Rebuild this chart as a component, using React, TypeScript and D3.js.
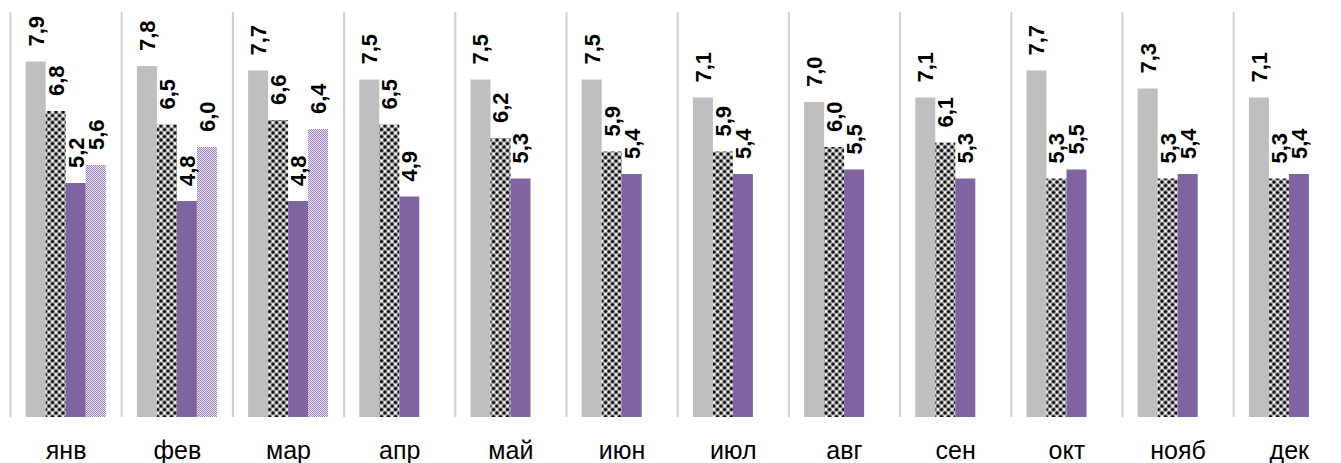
import React from "react";
import * as d3 from "d3";

const months = ["янв", "фев", "мар", "апр", "май", "июн", "июл", "авг", "сен", "окт", "нояб", "дек"];
const seriesIds = ["s1", "s2", "s3", "s4"];
const s1 = [7.9, 7.8, 7.7, 7.5, 7.5, 7.5, 7.1, 7.0, 7.1, 7.7, 7.3, 7.1];
const s2 = [6.8, 6.5, 6.6, 6.5, 6.2, 5.9, 5.9, 6.0, 6.1, 5.3, 5.3, 5.3];
const s3 = [5.2, 4.8, 4.8, 4.9, 5.3, 5.4, 5.4, 5.5, 5.3, 5.5, 5.4, 5.4];
const s4: (number | null)[] = [5.6, 6.0, 6.4, null, null, null, null, null, null, null, null, null];
const yMax = 9;

const W = 1341;
const H = 463;
const plotLeft = 10.5;
const groupW = 111.2;
const plotTop = 12;
const plotBottom = 417;

const fills: Record<string, string> = {
  s1: "#bfbfbf",
  s2: "url(#sphere)",
  s3: "#8064a2",
  s4: "url(#lilac)",
};

const fmt = (v: number) => v.toFixed(1).replace(".", ",");

export default function App() {
  const x0 = d3.scaleBand<string>().domain(months).range([plotLeft, plotLeft + groupW * months.length]).padding(0);
  const x1 = d3.scaleBand<string>().domain(seriesIds).range([15.2, 95.2]).padding(0);
  const y = d3.scaleLinear().domain([0, yMax]).range([plotBottom, plotTop]);
  const all = [s1, s2, s3, s4];

  const bars: { key: string; x: number; w: number; v: number; fill: string }[] = [];
  months.forEach((m, i) => {
    all.forEach((arr, si) => {
      const v = arr[i];
      if (v == null) return;
      const id = seriesIds[si];
      bars.push({ key: m + id, x: (x0(m) as number) + (x1(id) as number), w: x1.bandwidth(), v, fill: fills[id] });
    });
  });

  return (
    <svg width={W} height={H} style={{ position: "absolute", left: 0, top: 0, background: "#fff" }}>
      <defs>
        <pattern id="sphere" width={7} height={7} patternUnits="userSpaceOnUse">
          <rect width={7} height={7} fill="#ffffff" />
          {[
            [0, 0],
            [7, 0],
            [0, 7],
            [7, 7],
            [3.5, 3.5],
          ].map(([cx, cy], i) => (
            <g key={i}>
              <circle cx={cx} cy={cy} r={2.5} fill="#999999" />
              <circle cx={cx} cy={cy} r={1.6} fill="#111111" />
            </g>
          ))}
        </pattern>
        <pattern id="lilac" width={2} height={2} patternUnits="userSpaceOnUse">
          <rect width={2} height={2} fill="#ebe5f2" />
          <rect width={1} height={1} fill="#9a83bb" />
          <rect x={1} y={1} width={1} height={1} fill="#9a83bb" />
        </pattern>
      </defs>
      {months.map((m) => (
        <line
          key={"sep" + m}
          x1={x0(m) as number}
          x2={x0(m) as number}
          y1={plotTop}
          y2={plotBottom}
          stroke="#d0d0d0"
          strokeWidth={2}
        />
      ))}
      {bars.map((b) => (
        <rect key={b.key} x={b.x} y={y(b.v)} width={b.w} height={plotBottom - y(b.v)} fill={b.fill} />
      ))}
      {bars.map((b) => {
        const cx = b.x + b.w / 2;
        const yy = y(b.v) - 15;
        return (
          <text
            key={"t" + b.key}
            transform={`translate(${cx},${yy}) rotate(-90)`}
            dy="0.36em"
            fontFamily="Liberation Sans, Arial, sans-serif"
            fontWeight="bold"
            fontSize={22}
            fill="#000"
          >
            {fmt(b.v)}
          </text>
        );
      })}
      {months.map((m) => (
        <text
          key={"lbl" + m}
          x={(x0(m) as number) + groupW / 2}
          y={459}
          textAnchor="middle"
          fontFamily="Liberation Sans, Arial, sans-serif"
          fontSize={25}
          fill="#000"
        >
          {m}
        </text>
      ))}
    </svg>
  );
}
